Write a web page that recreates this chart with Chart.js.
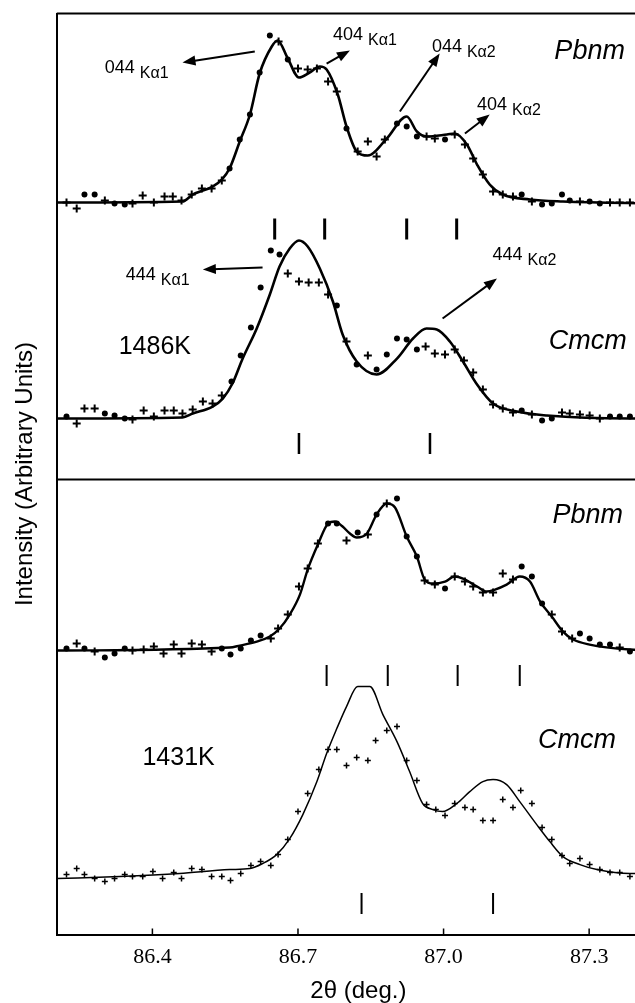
<!DOCTYPE html>
<html>
<head>
<meta charset="utf-8">
<title>XRD peaks – Pbnm / Cmcm at 1486K and 1431K</title>
<script src="https://cdn.jsdelivr.net/npm/chart.js@4.4.1/dist/chart.umd.min.js"></script>
<style>
  html, body { margin: 0; padding: 0; background: #fff; overflow: hidden; }
  #wrap { width: 700px; height: 1003px; }
</style>
</head>
<body>
<div id="wrap"><canvas id="xrdChart" width="700" height="1003"></canvas></div>
<script>
// ─── Data (2θ in degrees, intensity in arbitrary units above each pattern's baseline) ───

const xTicks = [86.4, 86.7, 87.0, 87.3];

// 1486K, Pbnm
const topPbnmFit = [[86.203,0],[86.462,1],[86.483,8],[86.524,16],[86.543,23],[86.559,34],[86.580,61],[86.601,88],[86.621,129],[86.646,156],[86.658,162],[86.679,144],[86.702,125],[86.724,130],[86.745,136],[86.759,133],[86.782,108],[86.800,76],[86.821,51],[86.844,47],[86.883,64],[86.924,86],[86.945,71],[86.965,66],[87.007,68],[87.023,69],[87.048,58],[87.069,38],[87.095,18],[87.122,8],[87.178,3],[87.246,1],[87.446,-1]];
const topPbnmCross = [[86.223,0],[86.244,-6],[86.302,2],[86.359,-1],[86.380,7],[86.403,0],[86.425,6],[86.442,6],[86.460,2],[86.481,8],[86.502,14],[86.522,14],[86.543,22],[86.660,161],[86.700,134],[86.720,133],[86.739,134],[86.762,121],[86.780,111],[86.823,51],[86.844,61],[86.862,46],[86.879,63],[86.965,66],[86.982,64],[87.023,68],[87.044,58],[87.061,44],[87.081,28],[87.102,11],[87.122,8],[87.143,6],[87.182,1],[87.281,1],[87.343,0],[87.363,0],[87.384,0]];
const topPbnmDot = [[86.260,8],[86.281,8],[86.322,-1],[86.343,-2],[86.559,34],[86.580,63],[86.601,88],[86.621,130],[86.642,167],[86.679,143],[86.800,74],[86.904,79],[86.924,76],[86.945,66],[87.003,63],[87.161,8],[87.203,-2],[87.223,-1],[87.244,8],[87.260,2],[87.301,1],[87.322,-1]];
const topPbnmRefl = [86.652, 86.755, 86.924, 87.027];

// 1486K, Cmcm
const topCmcmFit = [[86.203,0],[86.462,1],[86.483,5],[86.524,12],[86.545,20],[86.565,35],[86.586,60],[86.615,90],[86.642,124],[86.662,152],[86.683,170],[86.702,178],[86.720,172],[86.745,150],[86.772,117],[86.792,84],[86.821,57],[86.862,44],[86.904,60],[86.937,80],[86.965,90],[86.986,89],[87.013,77],[87.040,57],[87.069,34],[87.102,15],[87.151,7],[87.213,3],[87.384,0],[87.446,0]];
const topCmcmCross = [[86.244,-5],[86.260,10],[86.281,10],[86.359,-1],[86.382,8],[86.403,2],[86.425,8],[86.444,8],[86.462,5],[86.483,9],[86.504,17],[86.524,15],[86.543,23],[86.679,145],[86.702,137],[86.722,136],[86.743,136],[86.762,124],[86.800,77],[86.844,63],[86.963,72],[86.982,65],[87.003,64],[87.023,69],[87.042,58],[87.061,46],[87.081,29],[87.102,14],[87.122,10],[87.143,6],[87.182,4],[87.244,6],[87.260,5],[87.281,4],[87.301,3],[87.322,0]];
const topCmcmDot = [[86.223,2],[86.302,5],[86.322,3],[86.343,0],[86.563,37],[86.582,63],[86.603,91],[86.623,131],[86.644,168],[86.662,164],[86.780,113],[86.821,54],[86.862,49],[86.883,64],[86.904,80],[86.924,79],[86.945,69],[87.161,8],[87.203,-2],[87.223,0],[87.343,2],[87.363,2],[87.384,2]];
const topCmcmRefl = [86.702, 86.972];

// 1431K, Pbnm
const botPbnmFit = [[86.203,0],[86.559,3],[86.580,5],[86.615,9],[86.642,14],[86.662,22],[86.683,36],[86.704,56],[86.720,81],[86.741,106],[86.762,127],[86.776,129],[86.792,124],[86.807,117],[86.821,113],[86.842,117],[86.862,136],[86.883,147],[86.900,143],[86.924,114],[86.945,94],[86.961,71],[86.978,67],[87.003,69],[87.023,74],[87.040,72],[87.069,64],[87.089,59],[87.106,61],[87.130,66],[87.157,74],[87.178,69],[87.199,49],[87.223,34],[87.246,19],[87.267,11],[87.301,6],[87.384,1],[87.446,0]];
const botPbnmCross = [[86.244,7],[86.281,-1],[86.359,0],[86.382,1],[86.403,4],[86.423,-3],[86.444,6],[86.460,-3],[86.481,7],[86.502,6],[86.522,-1],[86.644,12],[86.659,22],[86.679,36],[86.702,64],[86.720,82],[86.741,107],[86.800,110],[86.844,116],[86.883,147],[86.961,70],[86.982,66],[87.023,74],[87.044,69],[87.061,64],[87.081,58],[87.102,58],[87.122,77],[87.143,71],[87.223,36],[87.244,19],[87.265,12],[87.363,3]];
const botPbnmDot = [[86.223,2],[86.260,2],[86.302,-7],[86.322,-3],[86.343,2],[86.543,2],[86.561,-4],[86.582,2],[86.603,10],[86.623,15],[86.762,127],[86.780,127],[86.823,118],[86.862,136],[86.904,152],[86.924,114],[86.945,94],[87.003,62],[87.161,84],[87.182,74],[87.203,47],[87.281,17],[87.301,12],[87.322,6],[87.343,6],[87.384,-1]];
const botPbnmRefl = [86.759, 86.885, 87.029, 87.157];

// 1431K, Cmcm
const botCmcmFit = [[86.203,0],[86.333,2],[86.456,5],[86.559,9],[86.601,10],[86.627,15],[86.656,24],[86.683,40],[86.710,64],[86.739,97],[86.759,125],[86.780,150],[86.800,172],[86.823,192],[86.848,192],[86.875,164],[86.904,137],[86.930,107],[86.957,75],[86.978,69],[86.998,67],[87.027,75],[87.054,87],[87.081,97],[87.102,99],[87.130,94],[87.157,77],[87.192,54],[87.219,37],[87.246,22],[87.281,14],[87.316,9],[87.384,5],[87.446,5]];
const botCmcmObs = [[86.223,4],[86.244,10],[86.260,4],[86.281,0],[86.302,-3],[86.322,0],[86.343,4],[86.359,2],[86.380,2],[86.401,7],[86.421,0],[86.444,6],[86.460,0],[86.481,10],[86.502,9],[86.522,2],[86.543,2],[86.561,-2],[86.582,5],[86.603,13],[86.623,17],[86.644,13],[86.659,24],[86.679,39],[86.700,67],[86.720,85],[86.743,109],[86.762,129],[86.780,129],[86.800,113],[86.821,121],[86.844,118],[86.860,138],[86.883,148],[86.904,152],[86.924,118],[86.945,98],[86.965,74],[86.984,69],[87.003,63],[87.023,75],[87.044,71],[87.061,69],[87.081,58],[87.102,58],[87.122,79],[87.143,71],[87.159,88],[87.182,75],[87.203,51],[87.223,39],[87.244,23],[87.260,15],[87.281,20],[87.301,14],[87.322,9],[87.343,6],[87.363,6],[87.384,2]];
const botCmcmRefl = [86.831, 87.102];

// ─── Layout of the stacked patterns (vertical offsets in axis units) ───
const xRange = { min: 86.203, max: 87.446 };
const yRange = { min: 0, max: 921 };
const dividerLevel = 455;

const panels = [
  { fit: topPbnmFit, cross: topPbnmCross, dot: topPbnmDot, refl: topPbnmRefl, offset: 732, reflLevel: -26.5, lineW: 2.6, reflW: 3 },
  { fit: topCmcmFit, cross: topCmcmCross, dot: topCmcmDot, refl: topCmcmRefl, offset: 516, reflLevel: -25, lineW: 2.6, reflW: 2.5 },
  { fit: botPbnmFit, cross: botPbnmCross, dot: botPbnmDot, refl: botPbnmRefl, offset: 284, reflLevel: -25, lineW: 2.4, reflW: 2 },
  { fit: botCmcmFit, cross: botCmcmObs, dot: [], refl: botCmcmRefl, offset: 56, reflLevel: -25, lineW: 1.5, reflW: 2, thinMarks: true },
];

// Text annotations (positions in axis units)
const phaseLabels = [
  { text: 'Pbnm', x: 87.301, y: 883, font: 'italic 27px "Liberation Sans", Arial' },
  { text: 'Cmcm', x: 87.297, y: 593, font: 'italic 27px "Liberation Sans", Arial' },
  { text: 'Pbnm', x: 87.297, y: 419, font: 'italic 27px "Liberation Sans", Arial' },
  { text: 'Cmcm', x: 87.275, y: 194, font: 'italic 27px "Liberation Sans", Arial' },
  { text: '1486K', x: 86.405, y: 587, font: '25px "Liberation Sans", Arial' },
  { text: '1431K', x: 86.454, y: 176, font: '25px "Liberation Sans", Arial' },
];

const peakLabels = [
  { hkl: '044', line: 'Kα1', x: 86.302, y: 862, from: [86.611, 883], to: [86.462, 872] },
  { hkl: '404', line: 'Kα1', x: 86.772, y: 895, from: [86.759, 871], to: [86.807, 884] },
  { hkl: '044', line: 'Kα2', x: 86.976, y: 883, from: [86.910, 823], to: [86.992, 881] },
  { hkl: '404', line: 'Kα2', x: 87.069, y: 825, from: [87.044, 801], to: [87.095, 820] },
  { hkl: '444', line: 'Kα1', x: 86.345, y: 655, from: [86.627, 667], to: [86.504, 665] },
  { hkl: '444', line: 'Kα2', x: 87.101, y: 675, from: [86.998, 616], to: [87.110, 656] },
];

// ─── Helpers ───
function shift(points, offset) {
  return points.map(([x, v]) => ({ x, y: v + offset }));
}

function drawArrow(ctx, x1, y1, x2, y2) {
  const ang = Math.atan2(y2 - y1, x2 - x1);
  const len = 13, half = 5;
  const cos = Math.cos(ang), sin = Math.sin(ang);
  ctx.beginPath();
  ctx.moveTo(x1, y1);
  ctx.lineTo(x2 - cos * len * 0.7, y2 - sin * len * 0.7);
  ctx.stroke();
  ctx.beginPath();
  ctx.moveTo(x2, y2);
  ctx.lineTo(x2 - len * cos + half * sin, y2 - len * sin - half * cos);
  ctx.lineTo(x2 - len * cos - half * sin, y2 - len * sin + half * cos);
  ctx.closePath();
  ctx.fill();
}

// Frame lines, inward x ticks, arrows and labels
const annotatePlugin = {
  id: 'annotate',
  afterDatasetsDraw(chart) {
    const { ctx, chartArea: a, scales: { x, y } } = chart;
    ctx.save();
    ctx.strokeStyle = '#000';
    ctx.fillStyle = '#000';

    ctx.lineWidth = 2;
    ctx.beginPath();
    ctx.moveTo(a.left, a.top);
    ctx.lineTo(a.right, a.top);
    const dy = y.getPixelForValue(dividerLevel);
    ctx.moveTo(a.left, dy);
    ctx.lineTo(a.right, dy);
    ctx.stroke();

    ctx.lineWidth = 1.5;
    ctx.beginPath();
    xTicks.forEach(v => {
      const px = x.getPixelForValue(v);
      ctx.moveTo(px, a.bottom);
      ctx.lineTo(px, a.bottom - 6);
    });
    ctx.stroke();

    ctx.lineWidth = 2;
    peakLabels.forEach(p => {
      drawArrow(ctx,
        x.getPixelForValue(p.from[0]), y.getPixelForValue(p.from[1]),
        x.getPixelForValue(p.to[0]), y.getPixelForValue(p.to[1]));
    });

    ctx.textBaseline = 'alphabetic';
    ctx.textAlign = 'left';
    peakLabels.forEach(p => {
      const px = x.getPixelForValue(p.x);
      const py = y.getPixelForValue(p.y);
      ctx.font = '18px "Liberation Sans", Arial';
      ctx.fillText(p.hkl, px, py);
      const w = ctx.measureText(p.hkl).width;
      ctx.font = '16px "Liberation Sans", Arial';
      ctx.fillText(p.line, px + w + 5, py + 5);
    });

    ctx.textBaseline = 'middle';
    ctx.textAlign = 'center';
    phaseLabels.forEach(l => {
      ctx.font = l.font;
      ctx.fillText(l.text, x.getPixelForValue(l.x), y.getPixelForValue(l.y));
    });
    ctx.restore();
  }
};

// ─── Build datasets ───
function buildDatasets() {
  const sets = [];
  panels.forEach(p => {
    sets.push({
      data: shift(p.fit, p.offset),
      showLine: true,
      borderColor: '#000',
      borderWidth: p.lineW,
      pointRadius: 0,
      cubicInterpolationMode: 'monotone',
      fill: false,
    });
    sets.push({
      data: shift(p.cross, p.offset),
      pointStyle: 'cross',
      pointRadius: p.thinMarks ? 3 : 4,
      borderWidth: p.thinMarks ? 1.5 : 2,
      borderColor: '#000',
    });
    if (p.dot.length) {
      sets.push({
        data: shift(p.dot, p.offset),
        pointStyle: 'circle',
        pointRadius: 3,
        borderWidth: 0,
        backgroundColor: '#000',
      });
    }
    sets.push({
      data: p.refl.map(v => ({ x: v, y: p.offset + p.reflLevel })),
      pointStyle: 'line',
      pointRotation: 90,
      pointRadius: 10.5,
      borderWidth: p.reflW,
      borderColor: '#000',
    });
  });
  return sets;
}

function initChart() {
  Chart.defaults.font.family = '"Liberation Sans", Arial, sans-serif';
  Chart.defaults.color = '#000';

  const ctx = document.getElementById('xrdChart').getContext('2d');
  new Chart(ctx, {
    type: 'scatter',
    data: { datasets: buildDatasets() },
    options: {
      responsive: false,
      animation: false,
      events: [],
      layout: { padding: { left: 11, top: 12, right: 40, bottom: 0 } },
      plugins: { legend: { display: false }, tooltip: { enabled: false } },
      scales: {
        x: {
          type: 'linear',
          min: xRange.min,
          max: xRange.max,
          afterBuildTicks: scale => { scale.ticks = xTicks.map(v => ({ value: v })); },
          ticks: {
            padding: 9,
            color: '#000',
            font: { family: '"Liberation Serif", "Times New Roman", serif', size: 22 },
            callback: v => v.toFixed(1),
          },
          grid: { display: false, drawTicks: false },
          border: { display: true, color: '#000', width: 2 },
          title: {
            display: true,
            text: '2θ (deg.)',
            color: '#000',
            font: { size: 24, lineHeight: 1 },
            padding: { top: 0, bottom: 0 },
          },
        },
        y: {
          min: yRange.min,
          max: yRange.max,
          ticks: { display: false },
          grid: { display: false, drawTicks: false },
          border: { display: true, color: '#000', width: 2 },
          title: {
            display: true,
            text: 'Intensity (Arbitrary Units)',
            color: '#000',
            font: { size: 24 },
            padding: { top: 0, bottom: 17 },
          },
        },
      },
    },
    plugins: [annotatePlugin],
  });
}

document.addEventListener('DOMContentLoaded', initChart);
</script>
</body>
</html>
